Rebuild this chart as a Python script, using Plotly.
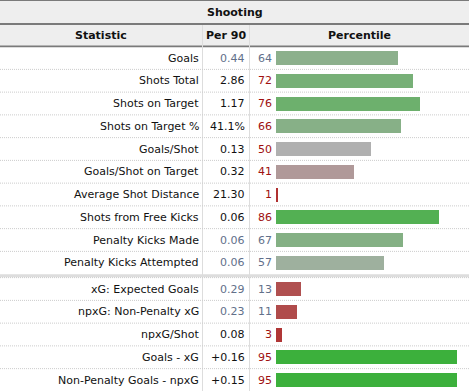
import plotly.graph_objects as go

# ---------------- data ----------------
title = "Shooting"
col_headers = ["Statistic", "Per 90", "Percentile"]
statistics = [
    "Goals", "Shots Total", "Shots on Target", "Shots on Target %", "Goals/Shot",
    "Goals/Shot on Target", "Average Shot Distance", "Shots from Free Kicks",
    "Penalty Kicks Made", "Penalty Kicks Attempted",
    "xG: Expected Goals", "npxG: Non-Penalty xG", "npxG/Shot", "Goals - xG",
    "Non-Penalty Goals - npxG",
]
per90 = ["0.44", "2.86", "1.17", "41.1%", "0.13", "0.32", "21.30", "0.06",
         "0.06", "0.06", "0.29", "0.23", "0.08", "+0.16", "+0.15"]
percentile = [64, 72, 76, 66, 50, 41, 1, 86, 67, 57, 13, 11, 3, 95, 95]
muted = [True, False, False, False, False, False, False, False, True, True,
         True, True, False, False, False]

# ---------------- layout constants (pixels) ----------------
W, H = 469, 391
ROW_H = 22.75
ROW0 = 58.0
SEP_AFTER = 9
SEP_GAP = 3.5
BAR_X0 = 276.0
PX_PER_PCT = 1.9
X_LABEL = 198.7
X_PER90 = 245.3
X_PCT = 271.7
COL1 = 202.5
COL2 = 249.5
FONT = "DejaVu Sans"


def row_y(i):
    return ROW0 + i * ROW_H + (SEP_GAP if i > SEP_AFTER else 0)


def bar_color(p):
    if p >= 50:
        t = (p - 50) / 50
        v = round(176 - 129 * t)
        return f"rgb({v},176,{v})"
    t = (50 - p) / 50
    v = round(176 - 130 * t)
    return f"rgb(176,{v},{v})"


ys = [row_y(i) for i in range(len(statistics))]

fig = go.Figure()
fig.add_trace(go.Bar(
    x=percentile, y=ys, base=0, orientation="h", width=14,
    marker=dict(color=[bar_color(p) for p in percentile], line=dict(width=0)),
    hoverinfo="skip", showlegend=False,
))

px = lambda x: x / W
shapes = []
# header background
shapes.append(dict(type="rect", xref="paper", yref="y", x0=0, x1=1, y0=0, y1=47,
                   fillcolor="#eeeeee", line=dict(width=0), layer="below"))
# header borders
for y0, y1 in [(0, 1), (23, 25), (45.5, 47.2)]:
    shapes.append(dict(type="rect", xref="paper", yref="y", x0=0, x1=1, y0=y0, y1=y1,
                       fillcolor="#7a7a7a", line=dict(width=0), layer="below"))
# vertical column lines
for cx in (COL1, COL2):
    shapes.append(dict(type="line", xref="paper", yref="y", x0=px(cx), x1=px(cx),
                       y0=25, y1=H, line=dict(color="#dddddd", width=1), layer="below"))
# dotted row separators
for i in range(len(statistics) - 1):
    yb = (ys[i] + ys[i + 1]) / 2 if i != SEP_AFTER else ys[i] + ROW_H / 2
    if i == SEP_AFTER:
        shapes.append(dict(type="rect", xref="paper", yref="y", x0=0, x1=1,
                           y0=yb, y1=yb + 3, fillcolor="#dddddd",
                           line=dict(width=0), layer="below"))
        yb = yb + 3.5
    shapes.append(dict(type="line", xref="paper", yref="y", x0=0, x1=1, y0=yb, y1=yb,
                       line=dict(color="#cccccc", width=1, dash="1px,1px"), layer="below"))

ann = []
ann.append(dict(text="<b>" + title + "</b>", x=0.5, y=12.3, xanchor="center"))
ann.append(dict(text="<b>" + col_headers[0] + "</b>", x=px(COL1 / 2), y=35.7, xanchor="center"))
ann.append(dict(text="<b>" + col_headers[1] + "</b>", x=px((COL1 + COL2) / 2), y=35.7, xanchor="center"))
ann.append(dict(text="<b>" + col_headers[2] + "</b>", x=px((COL2 + W) / 2), y=35.7, xanchor="center"))
for i, (s, v, p, m) in enumerate(zip(statistics, per90, percentile, muted)):
    ann.append(dict(text=s, x=px(X_LABEL), y=ys[i], xanchor="right"))
    ann.append(dict(text=v, x=px(X_PER90), y=ys[i], xanchor="right",
                    font=dict(color="#62708a" if m else "#111111", size=11, family=FONT)))
    ann.append(dict(text=str(p), x=px(X_PCT), y=ys[i], xanchor="right",
                    font=dict(color="#62708a" if m else "#a01010", size=11, family=FONT)))
for a in ann:
    a.update(xref="paper", yref="y", yanchor="middle", showarrow=False,
             borderpad=0, borderwidth=0)
    a.setdefault("font", dict(color="#111111", size=11, family=FONT))

fig.update_layout(
    width=W, height=H, margin=dict(l=0, r=0, t=0, b=0),
    paper_bgcolor="white", plot_bgcolor="white",
    xaxis=dict(range=[-BAR_X0 / PX_PER_PCT, (W - BAR_X0) / PX_PER_PCT],
               visible=False, fixedrange=True),
    yaxis=dict(range=[H, 0], visible=False, fixedrange=True),
    shapes=shapes, annotations=ann, font=dict(family=FONT, size=11),
    bargap=0,
)
fig.write_html("out.html", config={"displayModeBar": False},
               post_script="document.body.style.margin='0';")
